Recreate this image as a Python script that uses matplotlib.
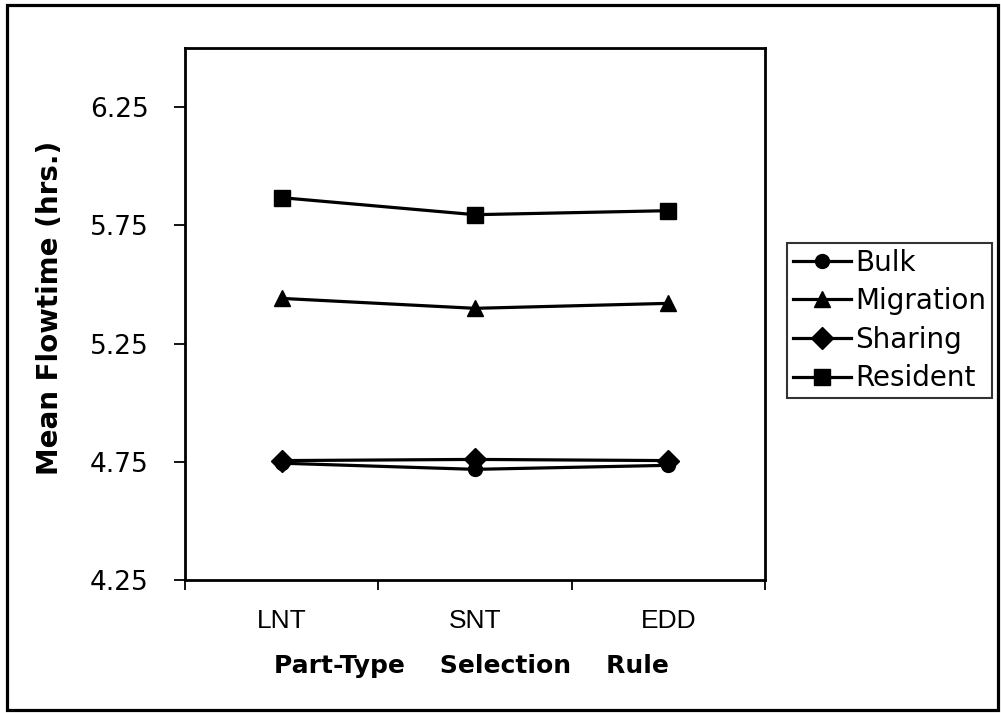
import matplotlib
matplotlib.use("Agg")
import matplotlib.pyplot as plt
from matplotlib.patches import Rectangle

# Part-type selection rules and mean flowtime (hrs.) per configuration
rules = ["LNT", "SNT", "EDD"]
bulk = [4.744, 4.718, 4.735]
migration = [5.441, 5.399, 5.420]
sharing = [4.755, 4.760, 4.755]
resident = [5.867, 5.795, 5.812]

series = [
    ("Bulk", bulk, "o", 10),
    ("Migration", migration, "^", 12),
    ("Sharing", sharing, "D", 11),
    ("Resident", resident, "s", 11),
]

y_ticks = [4.25, 4.75, 5.25, 5.75, 6.25]
y_tick_labels = ["4.25", "4.75", "5.25", "5.75", "6.25"]

W, H = 1001, 713
fig = plt.figure(figsize=(W / 100, H / 100), dpi=100)
fig.patch.set_facecolor("white")

# outer frame
fig.patches.append(Rectangle((7 / W, 1 - 710 / H), (998 - 7) / W, (710 - 5) / H,
                             transform=fig.transFigure, fill=False,
                             edgecolor="black", linewidth=2.3))

ax = fig.add_axes([185 / W, 1 - 580 / H, (765 - 185) / W, (580 - 48) / H])

x = list(range(1, len(rules) + 1))
handles = []
for name, vals, mk, ms in series:
    h, = ax.plot(x, vals, color="black", linewidth=2.3, marker=mk,
                 markersize=ms, markerfacecolor="black",
                 markeredgecolor="black", label=name)
    handles.append(h)

ax.set_xlim(0.5, len(rules) + 0.5)
ax.set_ylim(4.25, 6.5)

# category boundaries carry the tick marks, labels sit at category centres
ax.set_xticks([i + 0.5 for i in range(0, len(rules) + 1)])
ax.set_xticklabels([])
ax.set_xticks(x, minor=True)
ax.set_xticklabels(rules, minor=True, fontsize=19,
                   family=["Liberation Sans", "DejaVu Sans"])
ax.tick_params(axis="x", which="major", direction="out", length=7, width=1.3)
ax.tick_params(axis="x", which="minor", length=0, pad=21)

ax.set_yticks(y_ticks)
ax.set_yticklabels(y_tick_labels, fontsize=19, family="DejaVu Sans")
ax.tick_params(axis="y", direction="out", length=8, width=1.3, pad=18)

for sp in ax.spines.values():
    sp.set_linewidth(2.0)
    sp.set_color("black")

fig.text(471 / W, 1 - 666 / H, "Part-Type    Selection    Rule",
         ha="center", va="center", fontsize=18, fontweight="bold",
         family="DejaVu Sans")
fig.text(50 / W, 1 - 308 / H, "Mean Flowtime (hrs.)", rotation=90,
         ha="center", va="center", fontsize=20, fontweight="bold",
         family="DejaVu Sans")

leg = fig.legend(handles=handles, loc="upper left",
                 bbox_to_anchor=(787 / W, 1 - 243 / H),
                 bbox_transform=fig.transFigure, borderaxespad=0,
                 frameon=True, fancybox=False, edgecolor="black",
                 prop={"family": "DejaVu Sans", "size": 20},
                 handlelength=2.1, handletextpad=0.15, labelspacing=0.38,
                 borderpad=0.2)
leg.get_frame().set_linewidth(1.5)

fig.savefig("out.png", dpi=100, facecolor="white")
